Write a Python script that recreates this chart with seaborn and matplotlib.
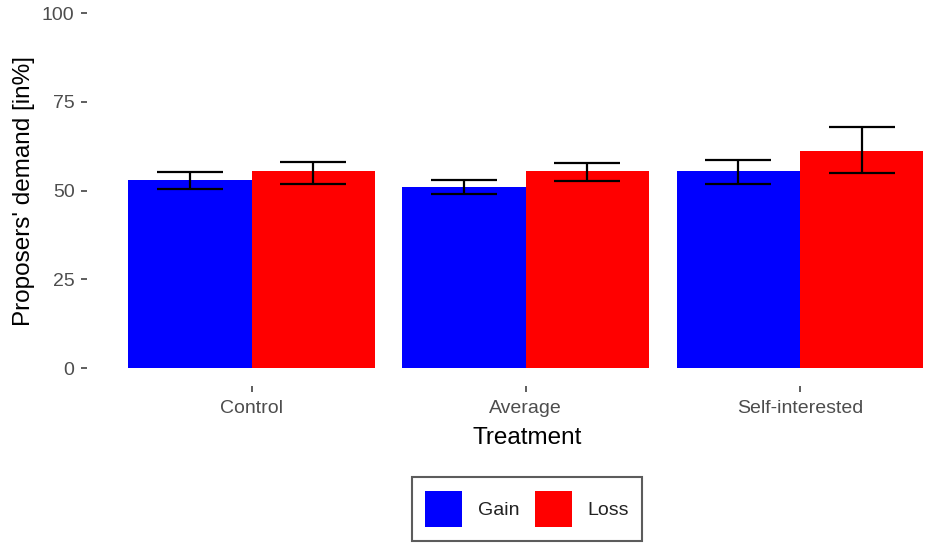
import pandas as pd
import seaborn as sns
import matplotlib.pyplot as plt
from matplotlib.patches import Patch

# Datos
treatments = ['Control', 'Average', 'Self-interested']
frames = ['Gain', 'Loss']
gain_mean = [53.0, 51.0, 55.6]
loss_mean = [55.6, 55.6, 61.2]
gain_low = [50.5, 49.1, 51.8]
gain_high = [55.4, 53.0, 58.7]
loss_low = [51.9, 52.7, 54.9]
loss_high = [58.2, 57.7, 67.8]

colors = {'Gain': '#0000FF', 'Loss': '#FF0000'}

df = pd.DataFrame({
    'Treatment': treatments * 2,
    'Frame': ['Gain'] * 3 + ['Loss'] * 3,
    'demand': gain_mean + loss_mean,
})
lows = {'Gain': gain_low, 'Loss': loss_low}
highs = {'Gain': gain_high, 'Loss': loss_high}

sns.set_style('white')
plt.rcParams['font.family'] = ['Liberation Sans', 'DejaVu Sans']

fig = plt.figure(figsize=(9.35, 5.5), dpi=100)
ax = fig.add_axes([87 / 935, 1 - 386 / 550, 1 - 87 / 935, 386 / 550])

sns.barplot(data=df, x='Treatment', y='demand', hue='Frame', order=treatments,
            hue_order=frames, palette=colors, width=0.9, errorbar=None,
            saturation=1, ax=ax, legend=False)

# Barras de error
for container, frame in zip(ax.containers, frames):
    for i, bar in enumerate(container.patches):
        bar.set_linewidth(0)
        xc = bar.get_x() + bar.get_width() / 2
        m = bar.get_height()
        ax.errorbar(xc, m, yerr=[[m - lows[frame][i]], [highs[frame][i] - m]],
                    fmt='none', ecolor='black', elinewidth=1.6, capsize=24,
                    capthick=1.6)

ax.set_xlim(-0.6, (935 - 252) / 274)
ax.set_ylim(-5, 103.7)
ax.set_yticks([0, 25, 50, 75, 100])
for s in ax.spines.values():
    s.set_visible(False)
ax.tick_params(axis='both', bottom=True, left=True, colors='#333333',
               labelcolor='#4D4D4D', labelsize=14, length=4, width=1.1,
               direction='out')
ax.tick_params(axis='y', pad=5)
ax.tick_params(axis='x', pad=6)
ax.set_xlabel('Treatment', fontsize=17.5, color='black')
ax.set_ylabel("Proposers' demand [in%]", fontsize=17.5, color='black')
ax.xaxis.set_label_coords((527 - 87) / 848, (386 - 438) / 386)
ax.xaxis.label.set_va('center')
ax.yaxis.set_label_coords((24 - 87) / 848, 0.505)
ax.yaxis.label.set_va('center')

handles = [Patch(facecolor=colors[f], edgecolor='none', label=f) for f in frames]
leg = fig.legend(handles=handles, loc='center', bbox_to_anchor=(527 / 935, 1 - 509 / 550),
                 ncol=2, frameon=True, fontsize=14, handlelength=1.9, handleheight=2.5,
                 columnspacing=0.8, handletextpad=0.8, borderpad=0.7, fancybox=False)
leg.get_frame().set_edgecolor('#333333')
leg.get_frame().set_linewidth(1.5)
for t in leg.get_texts():
    t.set_color('#222222')

fig.savefig('out.png', dpi=100)
